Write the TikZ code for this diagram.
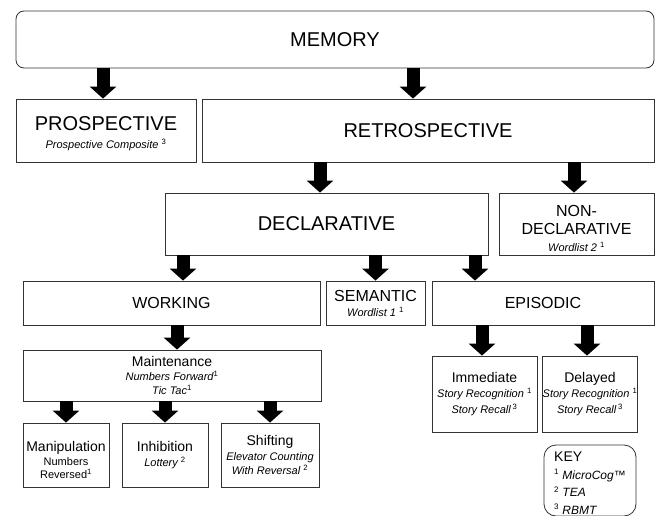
\documentclass[tikz,border=0pt]{standalone}
\usepackage{fontspec}
\setmainfont{Liberation Sans}
\usetikzlibrary{arrows.meta}

\newcommand{\testname}[1]{{\fontsize{11}{13}\selectfont\itshape #1}}
\newcommand{\src}[1]{\textsuperscript{\upshape #1}}

\begin{document}
\begin{tikzpicture}[x=1pt, y=-1pt,
    box/.style={draw=black!80, line width=0.8pt, inner sep=0pt, align=center},
    tierA/.style={font=\fontsize{20}{18}\selectfont},
    tierB/.style={font=\fontsize{16}{17}\selectfont},
    tierC/.style={font=\fontsize{14}{15}\selectfont},
    bigarrow/.style={line width=13pt, -{Triangle[width=26pt, length=12pt]}}]
  \useasboundingbox (0,0) rectangle (656,516);

  % top levels
  \node[box, tierA, rounded corners=8, minimum width=638, minimum height=57] (memory) at (335,39.5) {MEMORY};
  \node[box, tierA, minimum width=180, minimum height=63] (prosp) at (106,130.5)
    {\rule{0pt}{20pt}PROSPECTIVE\\\testname{Prospective Composite \src{3}}};
  \node[box, tierA, minimum width=452, minimum height=63] (retro) at (428,130.5) {RETROSPECTIVE};
  \node[box, tierA, minimum width=323, minimum height=62] (decl) at (326.5,224) {DECLARATIVE};
  \node[box, tierB, font=\fontsize{16}{18.5}\selectfont, minimum width=155, minimum height=62] (nondecl) at (576.5,224)
    {\rule{0pt}{19.5pt}NON-\\DECLARATIVE\\[-2pt]\testname{Wordlist 2 \src{1}}};

  % declarative
  \node[box, tierB, minimum width=297, minimum height=44] (working) at (171.5,303) {WORKING};
  \node[box, tierB, font=\fontsize{16}{15}\selectfont, minimum width=99, minimum height=44] (semantic) at (375.5,303)
    {SEMANTIC\\\testname{Wordlist 1 \src{1}}};
  \node[box, tierB, minimum width=222, minimum height=44] (episodic) at (543,303) {EPISODIC};

  % working memory
  \node[box, tierC, font=\fontsize{14}{14}\selectfont, minimum width=298, minimum height=51] (maint) at (172,375.5)
    {Maintenance\\\testname{Numbers Forward\src{1}}\\\testname{Tic Tac\src{1}}};
  \node[box, tierC, minimum width=86, minimum height=64] (manip) at (66,455)
    {\rule{0pt}{20pt}Manipulation\\[-1pt]{\fontsize{11}{13}\selectfont Numbers}\\[-2pt]{\fontsize{11}{13}\selectfont Reversed\src{1}}};
  \node[box, tierC, minimum width=86, minimum height=64] (inhib) at (165,455)
    {Inhibition\\\testname{Lottery \src{2}}};
  \node[box, tierC, minimum width=98, minimum height=64] (shift) at (270,455)
    {Shifting\\\testname{Elevator Counting}\\[-1pt]\testname{With Reversal \src{2}}};

  % episodic memory
  \node[box, tierC, font=\fontsize{14}{15.5}\selectfont, minimum width=105, minimum height=76] (immed) at (484.5,394)
    {Immediate\\\testname{Story Recognition \src{1}}\\\testname{Story Recall\,\src{3}}};
  \node[box, tierC, font=\fontsize{14}{15.5}\selectfont, minimum width=94, minimum height=76] (delayed) at (590,394)
    {Delayed\\\testname{Story Recognition \src{1}}\\\testname{Story Recall\,\src{3}}};

  % key
  \node[box, align=left, font=\fontsize{14}{17}\selectfont, rounded corners=12, minimum width=92, minimum height=71] (key) at (590,480.5)
    {\rule{0pt}{15pt}KEY\\[0.5pt]{\fontsize{12}{14}\selectfont\src{1} \itshape MicroCog™}\\[0.5pt]{\fontsize{12}{14}\selectfont\src{2} \itshape TEA}\\[0.5pt]{\fontsize{12}{14}\selectfont\src{3} \itshape RBMT}};

  % arrows
  \draw[bigarrow] ([xshift=-3]prosp.north |- memory.south) -- ([xshift=-3]prosp.north);
  \draw[bigarrow] ([xshift=-15]retro.north |- memory.south) -- ([xshift=-15]retro.north);
  \draw[bigarrow] ([xshift=-6.5]decl.north |- retro.south) -- ([xshift=-6.5]decl.north);
  \draw[bigarrow] ([xshift=-2.5]nondecl.north |- retro.south) -- ([xshift=-2.5]nondecl.north);
  \draw[bigarrow] ([xshift=11.5]working.north |- decl.south) -- ([xshift=11.5]working.north);
  \draw[bigarrow] (semantic.north |- decl.south) -- (semantic.north);
  \draw[bigarrow] ([xshift=-68]episodic.north |- decl.south) -- ([xshift=-68]episodic.north);
  \draw[bigarrow] ([xshift=5]maint.north |- working.south) -- ([xshift=5]maint.north);
  \draw[bigarrow] ([xshift=-2.5]immed.north |- episodic.south) -- ([xshift=-2.5]immed.north);
  \draw[bigarrow] ([xshift=-3]delayed.north |- episodic.south) -- ([xshift=-3]delayed.north);
  \foreach \kid in {manip, inhib, shift}
    \draw[bigarrow] (\kid.north |- maint.south) -- (\kid.north);
\end{tikzpicture}
\end{document}
